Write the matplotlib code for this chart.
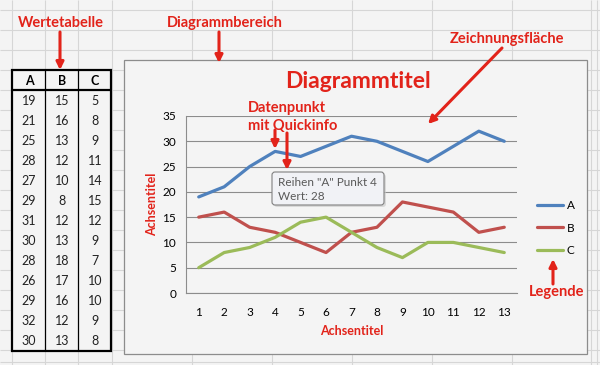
import matplotlib.pyplot as plt
from matplotlib.patches import Rectangle, FancyBboxPatch

plt.rcParams['font.family'] = ['Lato', 'DejaVu Sans']

# Werte (Tabelle und Diagramm)
punkte = list(range(1, 14))
serie_a = [19, 21, 25, 28, 27, 29, 31, 30, 28, 26, 29, 32, 30]
serie_b = [15, 16, 13, 12, 10, 8, 12, 13, 18, 17, 16, 12, 13]
serie_c = [5, 8, 9, 11, 14, 15, 12, 9, 7, 10, 10, 9, 8]
namen = ['A', 'B', 'C']
farben = ['#4F81BD', '#C0504D', '#9BBB59']
y_ticks = [0, 5, 10, 15, 20, 25, 30, 35]

rot = '#E2231A'
bgcol = '#F4F4F4'
gridcol = '#D6D6D6'

fig = plt.figure(figsize=(6, 3.65), dpi=100)
fig.patch.set_facecolor(bgcol)

# Tabellenblatt-Hintergrund in Pixelkoordinaten
bg = fig.add_axes([0, 0, 1, 1], zorder=0)
bg.set_xlim(0, 600)
bg.set_ylim(365, 0)
bg.axis('off')

for y in list(range(10, 361, 20)) + [362]:
    bg.hlines(y, 0, 600, color=gridcol, lw=0.8)
for x in [12, 45, 78, 112, 192, 272, 352, 432, 512, 591, 597]:
    bg.vlines(x, 0, 365, color=gridcol, lw=0.8)

# Diagrammbereich
bg.add_patch(Rectangle((124, 60), 463, 294, fc=bgcol, ec='#8C8C8C', lw=0.9, zorder=2))

# Wertetabelle
bg.add_patch(Rectangle((12, 70), 99, 281, fc=bgcol, ec='black', lw=1.6, zorder=3))
bg.hlines(90, 12, 111, color='black', lw=1.6, zorder=4)
bg.vlines([45, 78], 70, 351, color='black', lw=0.9, zorder=4)
spalten_x = [29, 62, 95]
for j, name in enumerate(namen):
    bg.text(spalten_x[j], 81, name, ha='center', va='center', fontsize=9,
            fontweight='bold', zorder=5)
for i in range(len(punkte)):
    for j, serie in enumerate([serie_a, serie_b, serie_c]):
        bg.text(spalten_x[j], 101 + 20 * i, str(serie[i]), ha='center', va='center',
                fontsize=9, color='#222222', zorder=5)

# Zeichnungsfläche
ax = fig.add_axes([186 / 600, (365 - 293) / 365, 331 / 600, 177 / 365], zorder=1)
ax.patch.set_alpha(0)
for serie, name, farbe in zip([serie_a, serie_b, serie_c], namen, farben):
    ax.plot(punkte, serie, color=farbe, lw=2.3, label=name,
            solid_capstyle='round', solid_joinstyle='round', zorder=3)
ax.set_xlim(0.5, 13.5)
ax.set_ylim(0, 35)
ax.set_yticks(y_ticks)
ax.set_xticks(punkte)
ax.yaxis.grid(True, color='#8C8C8C', lw=0.8)
ax.set_axisbelow(True)
for s in ['top', 'right']:
    ax.spines[s].set_visible(False)
for s in ['left', 'bottom']:
    ax.spines[s].set_color('#8C8C8C')
    ax.spines[s].set_linewidth(0.8)
ax.tick_params(length=0, labelsize=8.5)
ax.tick_params(axis='y', pad=7)
ax.tick_params(axis='x', pad=10)
ax.set_title('Diagrammtitel', color=rot, fontsize=16.5, fontweight='bold', pad=20, x=0.52)
ax.set_xlabel('Achsentitel', color=rot, fontsize=9, fontweight='bold', labelpad=5)
ax.set_ylabel('Achsentitel', color=rot, fontsize=9, fontweight='bold', labelpad=3)
ax.legend(loc='center left', bbox_to_anchor=(1.06, 0.367), frameon=False,
          fontsize=8.5, handlelength=2.2, handletextpad=0.35, labelspacing=0.95,
          borderpad=0, borderaxespad=0)

# Beschriftungen und Pfeile
ov = fig.add_axes([0, 0, 1, 1], zorder=3)
ov.set_xlim(0, 600)
ov.set_ylim(365, 0)
ov.axis('off')
ov.patch.set_alpha(0)

def pfeil(x0, y0, x1, y1):
    ov.annotate('', xy=(x1, y1), xytext=(x0, y0),
                arrowprops=dict(arrowstyle='-|>', color=rot, lw=2.2,
                                mutation_scale=11, shrinkA=0, shrinkB=0))

schrift = dict(color=rot, fontsize=10.5, fontweight='bold', va='center')
ov.text(61, 23, 'Wertetabelle', ha='center', **schrift)
pfeil(60, 32, 60, 70)
ov.text(225, 23, 'Diagrammbereich', ha='center', **schrift)
pfeil(219, 32, 219, 63)
ov.text(507, 39, 'Zeichnungsfläche', ha='center', **schrift)
pfeil(502, 48, 428, 124)
ov.text(248, 108, 'Datenpunkt', ha='left', **schrift)
ov.text(248, 126, 'mit Quickinfo', ha='left', **schrift)
pfeil(275, 130, 275, 149)
pfeil(287, 133, 287, 170)
ov.text(557, 292, 'Legende', ha='center', **schrift)
pfeil(553, 284, 553, 259)

# Quickinfo
ov.add_patch(FancyBboxPatch((274, 174), 112, 33, boxstyle='round,pad=0,rounding_size=3',
                            fc='#C8C8C8', ec='none', alpha=0.6))
ov.add_patch(FancyBboxPatch((272, 172), 112, 33, boxstyle='round,pad=0,rounding_size=3',
                            fc='#F1F2F6', ec='#808080', lw=0.8))
ov.text(278, 182, 'Reihen "A" Punkt 4', fontsize=8.5, color='#595959', va='center')
ov.text(278, 196, 'Wert: 28', fontsize=8.5, color='#595959', va='center')

fig.savefig('out.png', dpi=100, facecolor=bgcol)
